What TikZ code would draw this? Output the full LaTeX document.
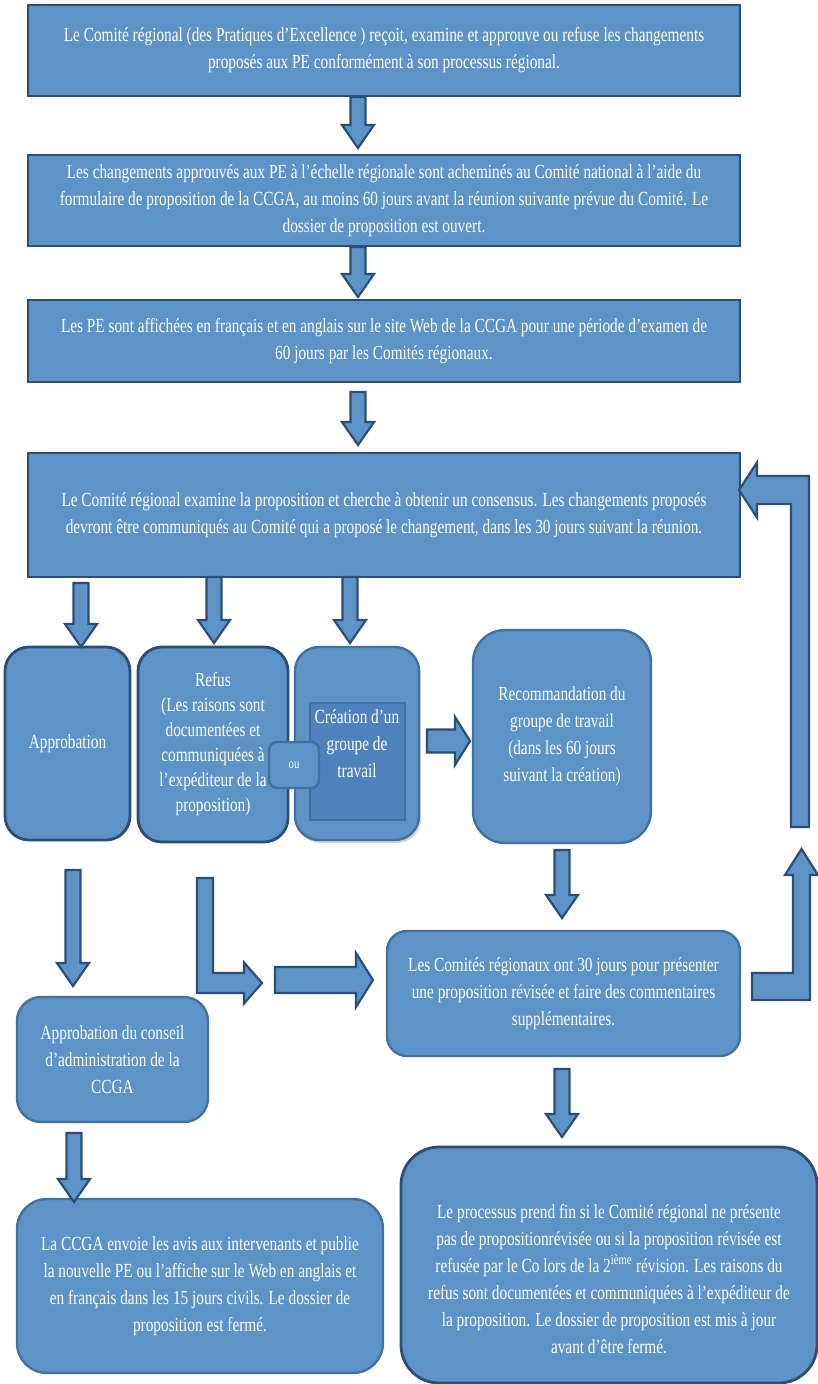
\documentclass[tikz,border=0pt]{standalone}
\usepackage{fontspec}
\setmainfont{Liberation Serif}[FakeStretch=0.765]
\usetikzlibrary{calc,shadows}

\definecolor{boxfill}{RGB}{94,147,199}
\definecolor{boxline}{RGB}{44,78,118}
\definecolor{softline}{RGB}{66,113,158}
\definecolor{innerfill}{RGB}{79,129,189}

% block arrow pointing down: start, tip
\newcommand{\downblock}[2]{%
  \draw[blockarrow] let \p1=(#1), \p2=(#2) in
    (\x1-7.5pt,\y1) -- (\x1-7.5pt,\y2+23pt) -- (\x1-16pt,\y2+23pt) -- (\x1,\y2)
    -- (\x1+16pt,\y2+23pt) -- (\x1+7.5pt,\y2+23pt) -- (\x1+7.5pt,\y1) -- cycle;}
% block arrow pointing right: start, tip, shaft half, head half, head length
\newcommand{\rightblock}[5]{%
  \draw[blockarrow] let \p1=(#1), \p2=(#2) in
    (\x1,\y1+#3) -- (\x2-#5,\y1+#3) -- (\x2-#5,\y1+#4) -- (\x2,\y1)
    -- (\x2-#5,\y1-#4) -- (\x2-#5,\y1-#3) -- (\x1,\y1-#3) -- cycle;}

\begin{document}
\begin{tikzpicture}[x=1pt,y=-1pt,
    txt/.style={text=white, align=center, font=\fontsize{20}{27}\selectfont},
    sqbox/.style={txt, draw=boxline, line width=2.8pt, fill=boxfill, inner sep=0pt},
    rbox/.style={sqbox, rounded corners=24pt},
    softbox/.style={rbox, draw=softline, line width=2.4pt},
    blockarrow/.style={draw=boxline, line width=2.2pt, fill=boxfill, line join=miter}]
  \useasboundingbox (0,0) rectangle (817,1384);

  % the four wide steps
  \node[sqbox, minimum width=712, minimum height=91] (regional) at (384,50.5)
    {Le Comité régional (des Pratiques d’Excellence ) reçoit, examine et approuve ou refuse les changements\\
     proposés aux PE conformément à son processus régional.};
  \node[sqbox, minimum width=712, minimum height=91] (national) at (384,200.5)
    {Les changements approuvés aux PE à l’échelle régionale sont acheminés au Comité national à l’aide du\\
     formulaire de proposition de la CCGA, au moins 60 jours avant la réunion suivante prévue du Comité. Le\\
     dossier de proposition est ouvert.};
  \node[sqbox, minimum width=712, minimum height=82] (posted) at (384,341)
    {Les PE sont affichées en français et en anglais sur le site Web de la CCGA pour une période d’examen de\\
     60 jours par les Comités régionaux.};
  \node[sqbox, minimum width=712, minimum height=124] (review) at (384,515)
    {Le Comité régional examine la proposition et cherche à obtenir un consensus. Les changements proposés\\
     devront être communiqués au Comité qui a proposé le changement, dans les 30 jours suivant la réunion.};

  % the three outcomes
  \node[rbox, minimum width=125, minimum height=193] (approval) at (67.5,743.5) {Approbation};
  \node[rbox, minimum width=150, minimum height=195,
        font=\fontsize{20}{25}\selectfont] (refusal) at (213,744.5)
    {Refus\\ (Les raisons sont\\ documentées et\\ communiquées à\\ l’expéditeur de la\\ proposition)};
  \node[softbox, minimum width=124, minimum height=193,
        drop shadow={shadow xshift=2pt, shadow yshift=-3pt, opacity=.35}] (group) at (357,743.5) {};
  \node[draw=softline, line width=1.6pt, fill=innerfill, minimum width=95, minimum height=117,
        inner sep=0pt] (groupinner) at (357.5,761.5) {};
  \node[txt] (grouptext) at (group.center) {Création d’un\\ groupe de\\ travail};
  \node[softbox, rounded corners=8pt, minimum width=50, minimum height=46,
        font=\fontsize{14}{16}\selectfont] (or) at (294,765) {ou};
  \node[softbox, rounded corners=32pt, minimum width=178, minimum height=213] (advice) at (562,736.5)
    {Recommandation du\\ groupe de travail\\ (dans les 60 jours\\ suivant la création)};

  % regional reply and endings
  \node[softbox, rounded corners=20pt, minimum width=353, minimum height=125] (reply) at (563.5,993.5)
    {Les Comités régionaux ont 30 jours pour présenter\\ une proposition révisée et faire des commentaires\\ supplémentaires.};
  \node[softbox, minimum width=191, minimum height=125] (board) at (112.5,1059.5)
    {Approbation du conseil\\ d’administration de la\\ CCGA};
  \node[softbox, rounded corners=30pt, minimum width=366, minimum height=174] (publish) at (200,1286)
    {La CCGA envoie les avis aux intervenants et publie\\ la nouvelle PE ou l’affiche sur le Web en anglais et\\
     en français dans les 15 jours civils. Le dossier de\\ proposition est fermé.};
  \node[rbox, rounded corners=38pt, minimum width=416, minimum height=236] (close) at (609,1265) {};
  \node[txt] (closetext) at ([yshift=-14pt]close.center)
    {Le processus prend fin si le Comité régional ne présente\\ pas de propositionrévisée ou si la proposition révisée est\\
     refusée par le Co lors de la 2\textsuperscript{ième} révision. Les raisons du\\
     refus sont documentées et communiquées à l’expéditeur de\\ la proposition. Le dossier de proposition est mis à jour\\
     avant d’être fermé.};

  % arrow ends
  \coordinate (a1s) at (358,97);   \coordinate (a1t) at (358,148);
  \coordinate (a2s) at (358,247);  \coordinate (a2t) at (358,297);
  \coordinate (a3s) at (358,392);  \coordinate (a3t) at (358,445);
  \coordinate (a4s) at (81,583);   \coordinate (a4t) at (81,647);
  \coordinate (a5s) at (214,577);  \coordinate (a5t) at (214,643);
  \coordinate (a6s) at (350,577);  \coordinate (a6t) at (350,643);
  \coordinate (a7s) at (73,870);   \coordinate (a7t) at (73,986);
  \coordinate (a8s) at (562,850);  \coordinate (a8t) at (562,918);
  \coordinate (a9s) at (74,1133);  \coordinate (a9t) at (74,1202);
  \coordinate (a10s) at (562,1069); \coordinate (a10t) at (562,1137);
  \coordinate (r1s) at (427,741);  \coordinate (r1t) at (470,741);
  \coordinate (r2s) at (275,980);  \coordinate (r2t) at (373,980);
  \coordinate (bends) at (205,878); \coordinate (bendt) at (262,983);
  \coordinate (ups) at (752,986.5); \coordinate (upt) at (801.5,849);
  \coordinate (backs) at (800,827); \coordinate (backt) at (739,490);

  \downblock{a1s}{a1t}
  \downblock{a2s}{a2t}
  \downblock{a3s}{a3t}
  \downblock{a4s}{a4t}
  \downblock{a5s}{a5t}
  \downblock{a6s}{a6t}
  \downblock{a7s}{a7t}
  \downblock{a8s}{a8t}
  \downblock{a9s}{a9t}
  \downblock{a10s}{a10t}
  \rightblock{r1s}{r1t}{11.5pt}{24pt}{15pt}
  \rightblock{r2s}{r2t}{13pt}{27pt}{17pt}

  % refusal goes down then right
  \draw[blockarrow] let \p1=(bends), \p2=(bendt) in
    (\x1-8pt,\y1) -- (\x1+8pt,\y1) -- (\x1+8pt,\y2+10pt) -- (\x2-18pt,\y2+10pt)
    -- (\x2-18pt,\y2+20.5pt) -- (\x2,\y2) -- (\x2-18pt,\y2-20.5pt) -- (\x2-18pt,\y2-10pt)
    -- (\x1-8pt,\y2-10pt) -- cycle;
  % reply goes right then up
  \draw[blockarrow] let \p1=(ups), \p2=(upt) in
    (\x1,\y1+13.5pt) -- (\x2-8.5pt,\y1+13.5pt) -- (\x2-8.5pt,\y2-26pt) -- (\x2-16.5pt,\y2-26pt)
    -- (\x2,\y2) -- (\x2+16.5pt,\y2-26pt) -- (\x2+8.5pt,\y2-26pt) -- (\x2+8.5pt,\y1-13.5pt)
    -- (\x1,\y1-13.5pt) -- cycle;
  % back to the regional review
  \draw[blockarrow] let \p1=(backs), \p2=(backt) in
    (\x1-9pt,\y1) -- (\x1-9pt,\y2-14pt) -- (\x2+18pt,\y2-14pt) -- (\x2+18pt,\y2-27.5pt)
    -- (\x2,\y2) -- (\x2+18pt,\y2+27.5pt) -- (\x2+18pt,\y2+14pt) -- (\x1+9pt,\y2+14pt)
    -- (\x1+9pt,\y1) -- cycle;
\end{tikzpicture}
\end{document}
